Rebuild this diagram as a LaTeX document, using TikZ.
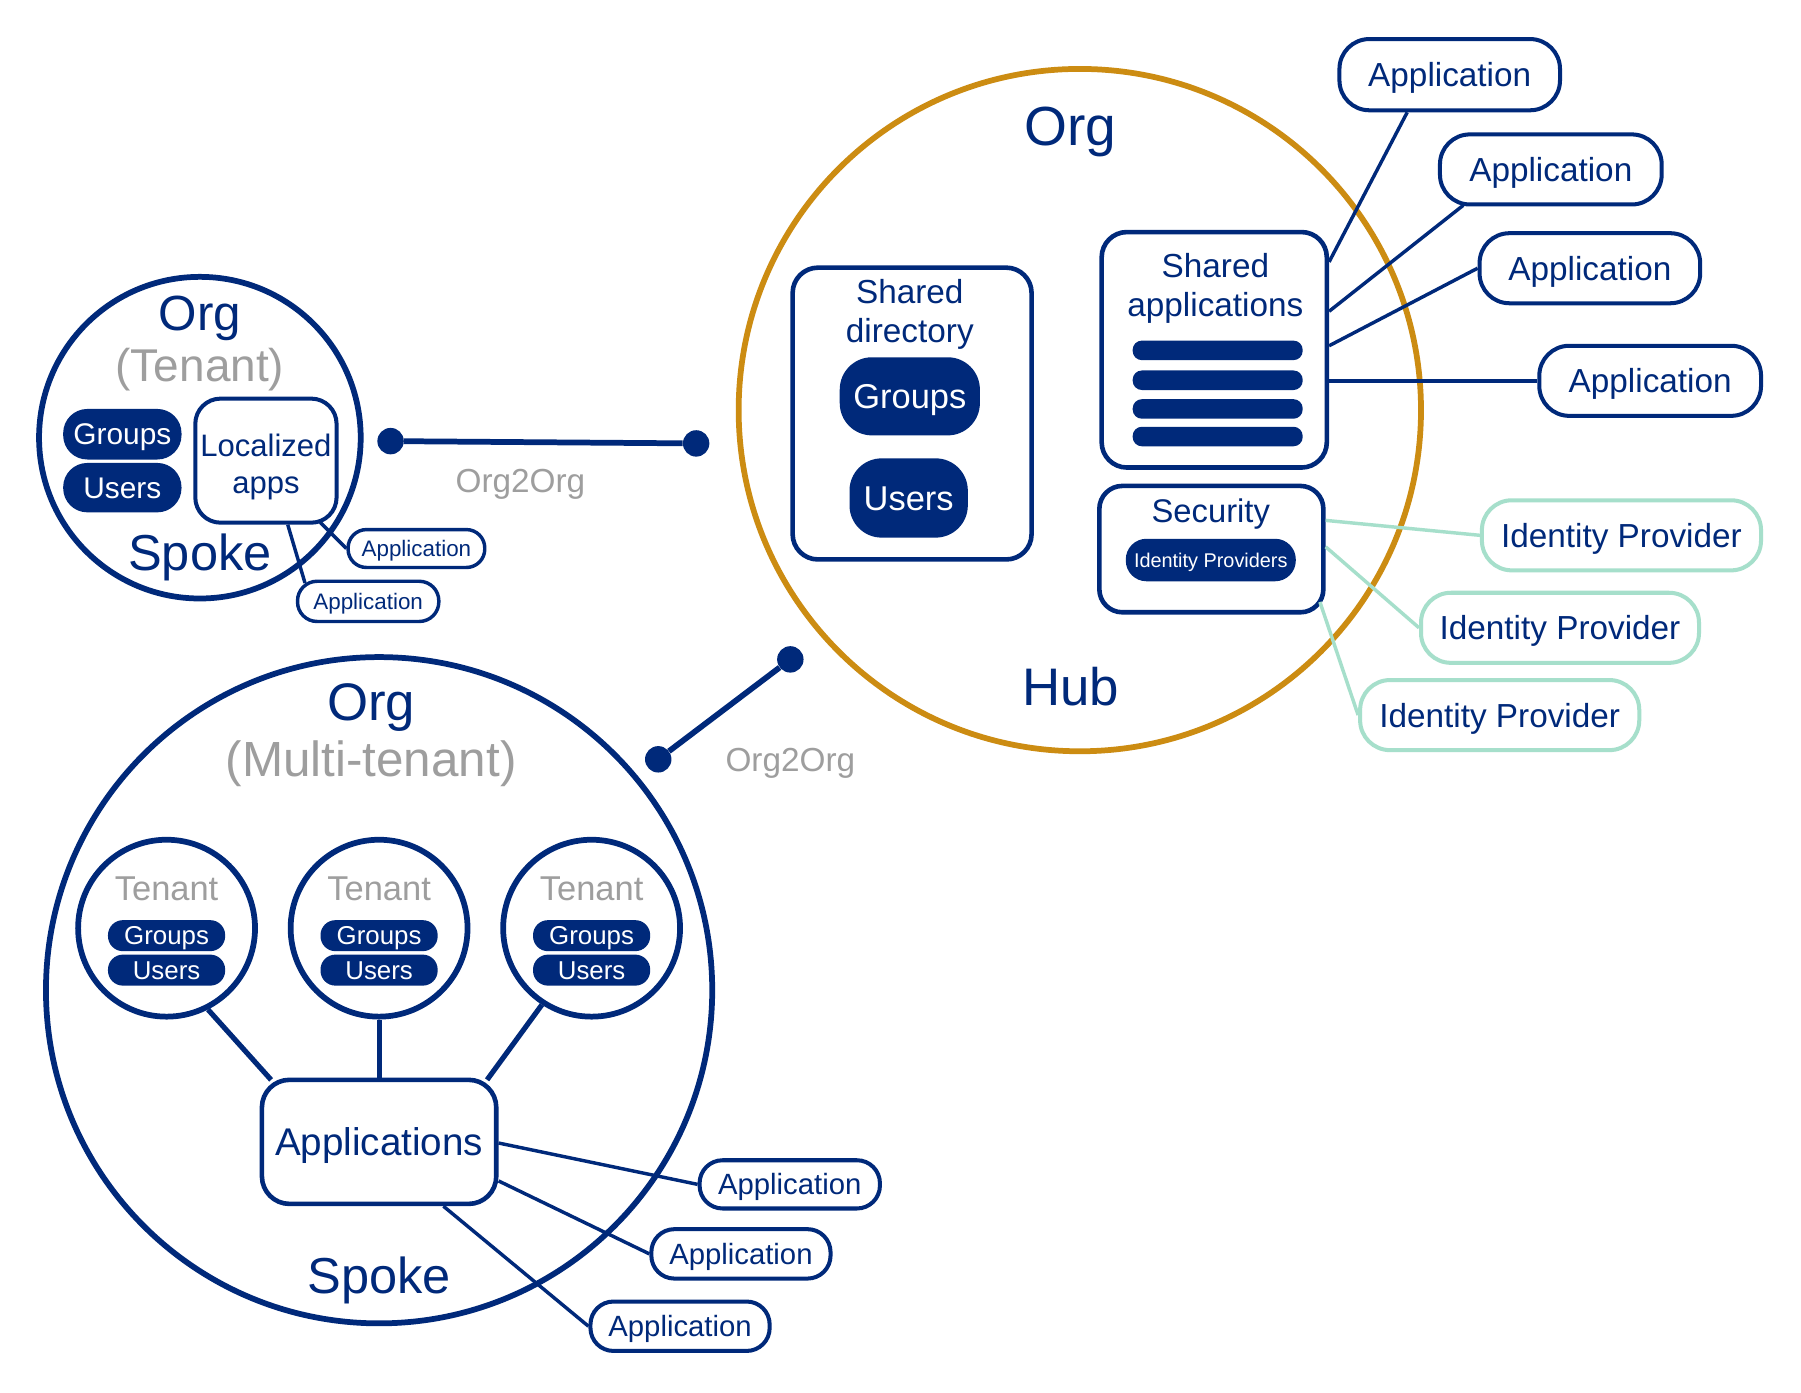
\documentclass[tikz,border=0pt]{standalone}
\usepackage{fontspec}
\setmainfont{Liberation Sans}
\usetikzlibrary{calc}
\definecolor{navy}{HTML}{00297A}
\definecolor{hubor}{HTML}{CC8C12}
\definecolor{txtgray}{HTML}{9E9E9E}
\definecolor{mint}{HTML}{A6DFCB}
\begin{document}
\begin{tikzpicture}[x=1pt,y=-1pt,
 ring/.style={circle, draw=navy, line width=5pt, inner sep=0pt},
 hubring/.style={circle, draw=hubor, line width=5pt, inner sep=0pt},
 frame/.style={draw=navy, line width=4pt, rounded corners=22pt, inner sep=0pt},
 pill/.style={fill=navy, text=white, inner sep=0pt},
 obox/.style={draw=navy, fill=white, line width=3.5pt, text=navy, inner sep=0pt},
 ibox/.style={draw=mint, fill=white, line width=3.5pt, text=navy, inner sep=0pt},
 conn/.style={draw=navy, line width=3pt},
 mconn/.style={draw=mint, line width=3pt},
 lbl/.style={text=navy, inner sep=0pt, anchor=base},
 glbl/.style={text=txtgray, inner sep=0pt, anchor=base},
 dotn/.style={circle, fill=navy, inner sep=0pt, minimum size=23pt},
 fsz/.style={font=\fontsize{#1}{#1}\selectfont},
 capbox/.style={text height=#1, text depth=0pt},
]
\fill[white] (0,0) rectangle (1567.8,1212.6);
\useasboundingbox (0,0) rectangle (1567.8,1212.6);

% ---------------- Hub ----------------
\node[hubring, minimum size=594pt] (hubc) at (940,357) {};
\node[lbl, fsz=48] (huborg) at (932,127) {Org};
\node[lbl, fsz=46] (hubname) at (932,614) {Hub};

\node[frame, minimum width=208pt, minimum height=254pt] (sdir) at (794,360) {};
\node[lbl, fsz=29] (sdir1) at (792,264.5) {Shared};
\node[lbl, fsz=29] (sdir2) at (792,298.5) {directory};
\node[pill, fsz=30, capbox=21.5pt, minimum width=122pt, minimum height=68pt, rounded corners=28pt] (hgroups) at (792,345) {Groups};
\node[pill, fsz=30, capbox=21.5pt, minimum width=103pt, minimum height=69pt, rounded corners=28pt] (husers) at (791,433.5) {Users};

\node[frame, minimum width=196pt, minimum height=205pt] (sapps) at (1057,304.5) {};
\node[lbl, fsz=29] (sapps1) at (1058,241.5) {Shared};
\node[lbl, fsz=29] (sapps2) at (1058,275.5) {applications};
\foreach \i/\y in {1/305,2/331,3/356,4/380}
  \node[pill, minimum width=148pt, minimum height=17pt, rounded corners=8pt] (bar\i) at (1060,\y) {};

\node[frame, minimum width=195pt, minimum height=110pt, rounded corners=20pt] (sec) at (1054.5,478) {};
\node[lbl, fsz=28.5] (sect) at (1054,455) {Security};
\node[pill, fsz=17.3, capbox=12.4pt, minimum width=148pt, minimum height=37pt, rounded corners=18pt] (idps) at (1054,487.5) {Identity Providers};

\node[obox, fsz=29, capbox=20.8pt, minimum width=192pt, minimum height=62pt, rounded corners=26pt] (a1) at (1262,65) {Application};
\node[obox, fsz=29, capbox=20.8pt, minimum width=193pt, minimum height=61pt, rounded corners=26pt] (a2) at (1350,147.5) {Application};
\node[obox, fsz=29, capbox=20.8pt, minimum width=192pt, minimum height=61pt, rounded corners=26pt] (a3) at (1384,233.5) {Application};
\node[obox, fsz=29, capbox=20.8pt, minimum width=193pt, minimum height=61pt, rounded corners=26pt] (a4) at (1436.5,331.5) {Application};

\draw[conn] ($(sapps.north east)+(0,28)$) -- ($(a1.south)+(-37,0)$);
\draw[conn] ($(sapps.north east)+(0,71)$) -- ($(a2.south west)+(22,-1)$);
\draw[conn] ($(sapps.north east)+(0,101)$) -- (a3.west);
\draw[conn] (sapps.east |- a4.west) -- (a4.west);

\node[ibox, fsz=29, capbox=20.8pt, minimum width=243pt, minimum height=61pt, rounded corners=26pt] (ip1) at (1411.5,466) {Identity Provider};
\node[ibox, fsz=29, capbox=20.8pt, minimum width=242pt, minimum height=61pt, rounded corners=26pt] (ip2) at (1358,546.5) {Identity Provider};
\node[ibox, fsz=29, capbox=20.8pt, minimum width=243pt, minimum height=61pt, rounded corners=26pt] (ip3) at (1305.5,622.5) {Identity Provider};

\draw[mconn] ($(sec.north east)+(0,32)$) -- (ip1.west);
\draw[mconn] ($(sec.north east)+(0,55)$) -- (ip2.west);
\draw[mconn] ($(sec.south east)+(-5,-11)$) -- (ip3.west);

% ---------------- Left spoke (tenant) ----------------
\node[ring, minimum size=280pt] (lspoke) at (174,381) {};
\node[lbl, fsz=43] (lorg) at (174,288) {Org};
\node[glbl, fsz=40] (ltenant) at (174,332) {(Tenant)};
\node[lbl, fsz=44] (lspk) at (174,497) {Spoke};
\node[pill, fsz=26, capbox=18.6pt, minimum width=103pt, minimum height=44pt, rounded corners=21pt] (lgroups) at (106.5,378) {Groups};
\node[pill, fsz=26, capbox=18.6pt, minimum width=103pt, minimum height=43pt, rounded corners=21pt] (lusers) at (106.5,424.5) {Users};
\node[frame, line width=3.5pt, fill=white, minimum width=123pt, minimum height=108pt, rounded corners=22pt] (loc) at (231.5,401) {};
\node[lbl, fsz=27] (loc1) at (231.5,397.5) {Localized};
\node[lbl, fsz=27] (loc2) at (231.5,429.5) {apps};

\node[obox, fsz=19.5, capbox=14pt, line width=3pt, minimum width=119pt, minimum height=33pt, rounded corners=16pt] (la) at (362.5,477.5) {Application};
\node[obox, fsz=19.5, capbox=14pt, line width=3pt, minimum width=123pt, minimum height=35pt, rounded corners=17pt] (lb) at (320.5,523.5) {Application};
\draw[conn] ($(loc.south east)+(-16,-2)$) -- (la.west);
\draw[conn] ($(loc.south)+(19,0)$) -- ($(lb.north west)+(8,3)$);

% ---------------- Org2Org links ----------------
\node[dotn] (d1) at (340,384) {};
\node[dotn] (d2) at (606,386) {};
\draw[navy, line width=5pt] (d1) -- (d2);
\node[glbl, fsz=29] (o2o1) at (453,429) {Org2Org};
\node[dotn] (d3) at (688,574) {};
\node[dotn] (d4) at (573,661) {};
\draw[navy, line width=5pt] (d3) -- (d4);
\node[glbl, fsz=29] (o2o2) at (688,672) {Org2Org};

% ---------------- Multi-tenant spoke ----------------
\node[ring, minimum size=580pt] (mspoke) at (330,862) {};
\node[lbl, fsz=46] (morg) at (323,627) {Org};
\node[glbl, fsz=43] (mmt) at (323,676) {(Multi-tenant)};
\node[lbl, fsz=44] (mspk) at (330,1126) {Spoke};

\foreach \i/\x in {1/145,2/330,3/515}{
  \node[ring, minimum size=154pt] (t\i) at (\x,808) {};
  \node[glbl, fsz=30] (t\i l) at (\x,784) {Tenant};
  \node[pill, fsz=22.5, capbox=16.1pt, minimum width=102pt, minimum height=27pt, rounded corners=13pt] (t\i g) at (\x,814.5) {Groups};
  \node[pill, fsz=22.5, capbox=16.1pt, minimum width=102pt, minimum height=27pt, rounded corners=13pt] (t\i u) at (\x,844.5) {Users};
}

\node[frame, text=navy, fsz=33.6, capbox=24pt, minimum width=204pt, minimum height=108pt, rounded corners=24pt] (apps) at (330,994) {Applications};
\draw[conn, line width=4.5pt] (t1.-63) -- ($(apps.north west)+(10,2)$);
\draw[conn, line width=4.5pt] (t2.south) -- (apps.north);
\draw[conn, line width=4.5pt] (t3.-123) -- ($(apps.north east)+(-10,2)$);

\node[obox, fsz=25.5, capbox=18.3pt, minimum width=157pt, minimum height=42pt, rounded corners=20pt] (b1) at (687.5,1031) {Application};
\node[obox, fsz=25.5, capbox=18.3pt, minimum width=156pt, minimum height=43pt, rounded corners=20pt] (b2) at (645,1091.5) {Application};
\node[obox, fsz=25.5, capbox=18.3pt, minimum width=156pt, minimum height=43pt, rounded corners=20pt] (b3) at (592,1154.5) {Application};
\draw[conn] ($(apps.east)+(0,1)$) -- (b1.west);
\draw[conn] ($(apps.east)+(0,34)$) -- (b2.west);
\draw[conn] ($(apps.south)+(56,0)$) -- (b3.west);
\end{tikzpicture}
\end{document}
